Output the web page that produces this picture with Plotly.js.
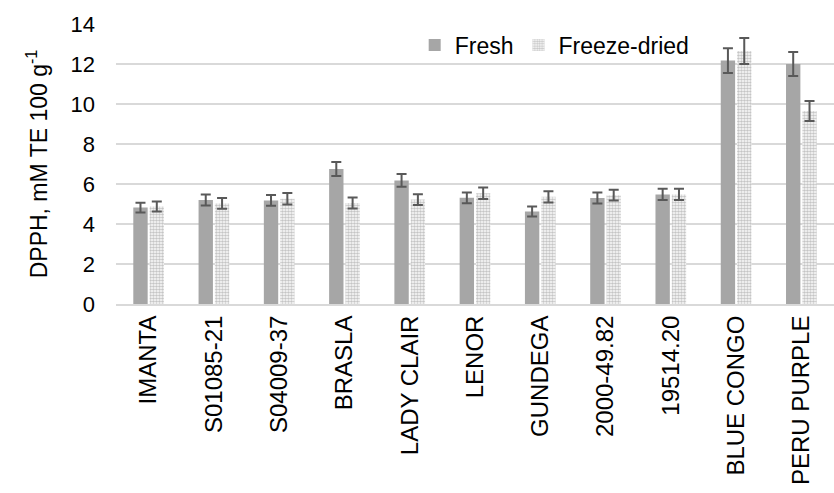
<!DOCTYPE html>
<html>
<head>
<meta charset="utf-8">
<script src="https://cdn.plot.ly/plotly-3.0.1.min.js"></script>
<style>html,body{margin:0;padding:0;background:#fff;}#chart{width:834px;height:493px;}</style>
</head>
<body>
<div id="chart"></div>
<script>
const categories = ["IMANTA","S01085-21","S04009-37","BRASLA","LADY CLAIR","LENOR","GUNDEGA","2000-49.82","19514.20","BLUE CONGO","PERU PURPLE"];
const freshValues = [4.82, 5.2, 5.18, 6.75, 6.18, 5.31, 4.62, 5.3, 5.48, 12.17, 12.0];
const freshErrors = [0.24, 0.28, 0.27, 0.35, 0.32, 0.27, 0.25, 0.27, 0.28, 0.62, 0.6];
const freezeValues = [4.88, 5.03, 5.26, 5.05, 5.22, 5.54, 5.36, 5.44, 5.48, 12.65, 9.65];
const freezeErrors = [0.25, 0.27, 0.29, 0.28, 0.27, 0.29, 0.28, 0.27, 0.28, 0.65, 0.5];
const seriesNames = ["Fresh", "Freeze-dried"];
const yTicks = [0, 2, 4, 6, 8, 10, 12, 14];

const fontFam = "Liberation Sans, Arial, sans-serif";
const errStyle = {type: "data", visible: true, color: "#595959", thickness: 2, width: 5};

const traces = [
  {
    type: "bar", name: seriesNames[0], x: categories, y: freshValues,
    marker: {color: "#a6a6a6"},
    error_y: Object.assign({array: freshErrors}, errStyle)
  },
  {
    type: "bar", name: seriesNames[1], x: categories, y: freezeValues,
    marker: {color: "#ffffff", pattern: {shape: ".", fgcolor: "#8c8c8c", bgcolor: "#ffffff", size: 3, solidity: 0.6, fillmode: "overlay"}},
    error_y: Object.assign({array: freezeErrors}, errStyle)
  }
];

const layout = {
  width: 834, height: 493,
  margin: {l: 116, r: 0, t: 24, b: 188.5},
  paper_bgcolor: "#ffffff", plot_bgcolor: "#ffffff",
  barmode: "group", bargap: 0.5, bargroupgap: 0.12,
  font: {family: fontFam, size: 22, color: "#000000"},
  showlegend: true,
  legend: {orientation: "h", x: 0.416, y: 0.925, xanchor: "left", yanchor: "middle",
           font: {family: fontFam, size: 23, color: "#000"}, bgcolor: "rgba(255,255,255,0)",
           itemwidth: 30, tracegroupgap: 0},
  xaxis: {
    type: "category", tickangle: -90, showgrid: false, showline: true,
    linecolor: "#d9d9d9", linewidth: 2, ticks: "", ticklen: 0,
    tickfont: {family: fontFam, size: 24, color: "#000"}, automargin: false
  },
  yaxis: {
    range: [0, 14], tickvals: yTicks, ticktext: yTicks.map(String),
    showgrid: true, gridcolor: "#d9d9d9", gridwidth: 2, zeroline: false,
    showline: false, ticks: "", ticklen: 0, ticklabelstandoff: 20,
    tickfont: {family: fontFam, size: 22, color: "#000"},
    title: {text: "DPPH, mM TE 100 g<sup>-1</sup>", font: {family: fontFam, size: 23, color: "#000"}, standoff: 16},
    automargin: false
  }
};

Plotly.newPlot("chart", traces, layout, {displayModeBar: false, staticPlot: true});
</script>
</body>
</html>
